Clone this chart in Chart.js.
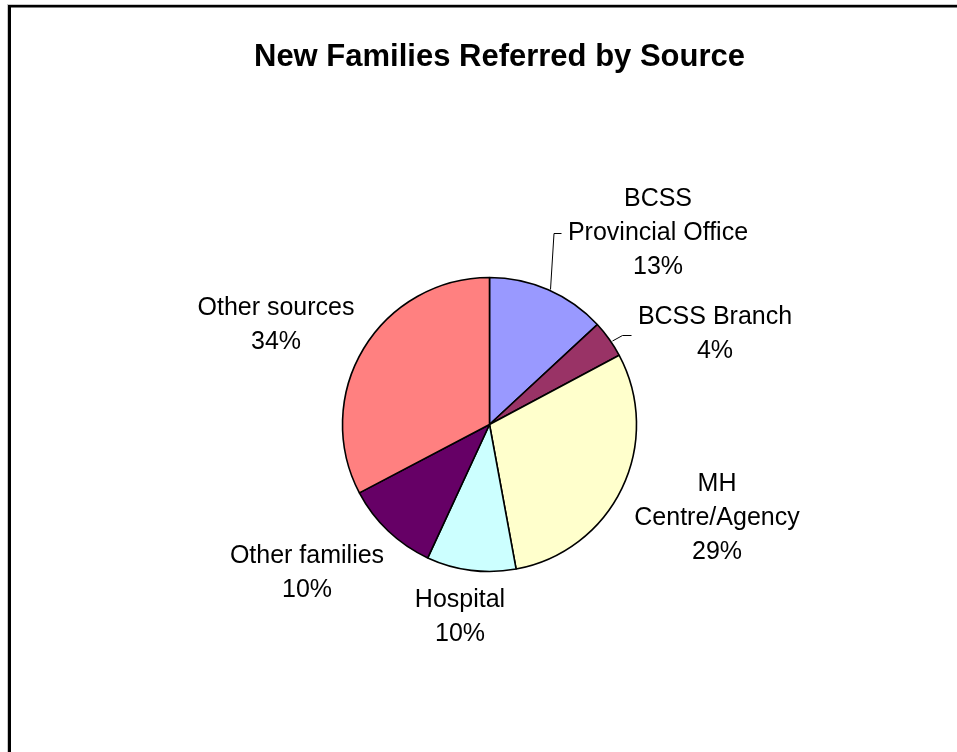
<!DOCTYPE html>
<html>
<head>
<meta charset="utf-8">
<title>New Families Referred by Source</title>
<script src="https://cdn.jsdelivr.net/npm/chart.js@4"></script>
<style>
  body { margin: 0; background: #fff; }
  #wrap { width: 957px; height: 752px; }
</style>
</head>
<body>
<div id="wrap"><canvas id="pieChart" width="957" height="752"></canvas></div>
<script>
const TITLE = 'New Families Referred by Source'

const SOURCES = [
  ['BCSS', 'Provincial Office'],
  ['BCSS Branch'],
  ['MH', 'Centre/Agency'],
  ['Hospital'],
  ['Other families'],
  ['Other sources']
]

// slice sizes as drawn (percent)
const SHARES = [13.1, 4.1, 29.9, 9.8, 10.4, 32.7]

// percentages as printed on the labels
const PERCENT_LABELS = ['13%', '4%', '29%', '10%', '10%', '34%']

const COLORS = ['#9999FF', '#993366', '#FFFFCC', '#CCFFFF', '#660066', '#FF8080']

// label placement relative to pie centre: x = text centre, y = first baseline
const labelLayout = [
  { dx: 168.5, dy: -218.5, leader: [[61, -135], [64.5, -191], [72, -191]] },
  { dx: 225.5, dy: -100.5, leader: [[123, -83.5], [133, -89], [142, -89]] },
  { dx: 227.5, dy: 66.5 },
  { dx: -29.5, dy: 182 },
  { dx: -182.5, dy: 138 },
  { dx: -213.5, dy: -109.5 }
]

const FONT = '"Liberation Sans", Arial, sans-serif'

const framePlugin = {
  id: 'frame',
  beforeDraw(chart) {
    const ctx = chart.ctx
    ctx.save()
    ctx.fillStyle = '#fff'
    ctx.fillRect(0, 0, chart.width, chart.height)
    // soft grey edge then the black frame (right/bottom run off the page)
    ctx.fillStyle = '#c8c8c8'
    ctx.fillRect(7, 4, chart.width, 1)
    ctx.fillRect(7, 4, 1, chart.height)
    ctx.fillStyle = '#000'
    ctx.fillRect(8, 5, chart.width, 2.5)
    ctx.fillRect(8, 5, 3, chart.height)
    ctx.restore()
  },
  afterDraw(chart) {
    const ctx = chart.ctx
    ctx.save()
    ctx.fillStyle = '#000'
    ctx.textAlign = 'center'
    ctx.textBaseline = 'alphabetic'
    ctx.font = 'bold 31px ' + FONT
    ctx.fillText(TITLE, 499.5, 66)

    const arcs = chart.getDatasetMeta(0).data
    const cx = arcs[0].x
    const cy = arcs[0].y
    ctx.font = '25px ' + FONT
    SOURCES.forEach((lines, i) => {
      const lay = labelLayout[i]
      const all = lines.concat([PERCENT_LABELS[i]])
      all.forEach((txt, j) => {
        ctx.fillText(txt, cx + lay.dx, cy + lay.dy + j * 34)
      })
      if (lay.leader) {
        ctx.strokeStyle = '#000'
        ctx.lineWidth = 1
        ctx.beginPath()
        lay.leader.forEach((p, k) => {
          if (k == 0) ctx.moveTo(cx + p[0], cy + p[1])
          else ctx.lineTo(cx + p[0], cy + p[1])
        })
        ctx.stroke()
      }
    })
    ctx.restore()
  }
}

const pie = document.getElementById('pieChart')

const pieChart = new Chart(pie, {
  type: 'pie',
  data: {
    labels: SOURCES.map(s => s.join(' ')),
    datasets: [{
      data: SHARES,
      backgroundColor: COLORS,
      borderColor: '#000',
      borderWidth: 1.6
    }]
  },
  options: {
    responsive: false,
    animation: false,
    radius: 147,
    layout: {
      padding: { left: 22, right: 0, top: 97, bottom: 0 }
    },
    plugins: {
      legend: { display: false },
      title: { display: false },
      tooltip: { enabled: false }
    }
  },
  plugins: [framePlugin]
})
</script>
</body>
</html>
